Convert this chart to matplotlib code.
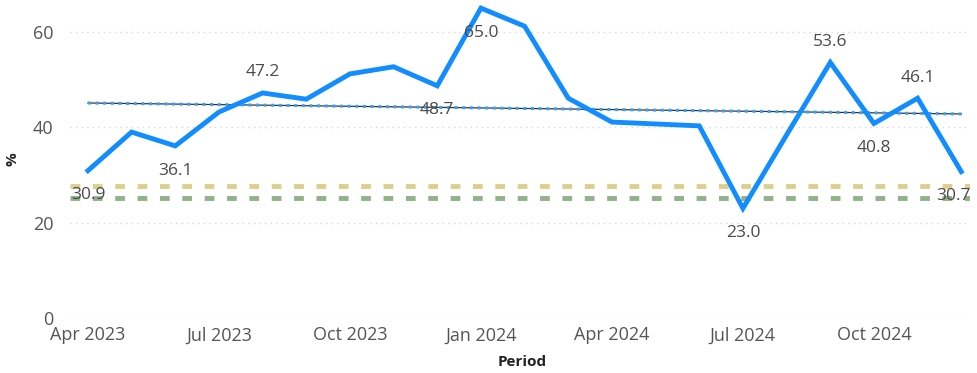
import matplotlib
matplotlib.use("Agg")
import matplotlib.pyplot as plt
import numpy as np

# monthly series, Apr 2023 .. Dec 2024
periods = ["Apr 2023", "May 2023", "Jun 2023", "Jul 2023", "Aug 2023", "Sep 2023",
           "Oct 2023", "Nov 2023", "Dec 2023", "Jan 2024", "Feb 2024", "Mar 2024",
           "Apr 2024", "May 2024", "Jun 2024", "Jul 2024", "Aug 2024", "Sep 2024",
           "Oct 2024", "Nov 2024", "Dec 2024"]
values = [30.9, 39.0, 36.1, 43.2, 47.2, 45.9, 51.2, 52.7, 48.7, 65.0, 61.2, 46.1,
          41.1, 40.7, 40.3, 23.0, 38.4, 53.6, 40.8, 46.1, 30.7]
trend = [45.1, 42.8]           # trend line start / end
ref_upper = 27.7
ref_lower = 25.2
tick_labels = ["Apr 2023", "Jul 2023", "Oct 2023", "Jan 2024", "Apr 2024", "Jul 2024", "Oct 2024"]
y_ticks = [0, 20, 40, 60]

# labelled points: index -> placement ('above' / 'below')
labelled = {0: "below", 2: "below", 4: "above", 8: "below", 9: "below",
            15: "below", 17: "above", 18: "below", 19: "above", 20: "below"}

plt.rcParams['font.family'] = ['Open Sans', 'DejaVu Sans']

fig = plt.figure(figsize=(9.78, 3.73), dpi=100)
ax = fig.add_axes([70 / 978, 55 / 373, 900 / 978, 318 / 373])

x = np.arange(len(values))

# reference lines
ax.plot([-0.41, 20.2], [ref_upper] * 2, color="#dccf8c", lw=3.5, dashes=(2, 2.6), zorder=2)
ax.plot([-0.41, 20.2], [ref_lower] * 2, color="#8fb288", lw=3.5, dashes=(2, 2.6), zorder=2)

# trend line: thin black with blue dots
ax.plot([x[0], x[-1]], trend, color="#333333", lw=0.9, zorder=3)
ax.plot([x[0], x[-1]], trend, color="#3aa0f5", lw=2.2, dashes=(1, 1.5), zorder=3)

# main series
ax.plot(x, values, color="#118DFF", lw=3.5, solid_joinstyle="miter", zorder=4)

for i, pos in labelled.items():
    off = 9 if pos == "above" else -12
    va = "bottom" if pos == "above" else "top"
    dx = -6 if i == len(values) - 1 else 0
    ax.annotate(f"{values[i]:.1f}", (x[i], values[i]), xytext=(dx, off),
                textcoords="offset points", ha="center", va=va,
                fontsize=12.5, color="#4a4a4a", zorder=5)

ax.set_xlim(-0.41, 20.2)
ax.set_ylim(0, 66.7)
ax.set_yticks(y_ticks)
ax.set_xticks([periods.index(t) for t in tick_labels])
ax.set_xticklabels(tick_labels)
ax.tick_params(length=0, labelsize=13, labelcolor="#555555")
ax.tick_params(axis="y", pad=12)
ax.tick_params(axis="x", pad=6)
ax.grid(axis="y", color="#d8d8d8", lw=1, linestyle=(0, (1, 3)))
for s in ax.spines.values():
    s.set_visible(False)

ax.set_xlabel("Period", fontsize=11, fontweight="bold", color="#222222")
ax.xaxis.set_label_coords(0.502, -0.115)
ax.set_ylabel("%", fontsize=11, fontweight="bold", color="#222222")
ax.yaxis.set_label_coords(-0.056, 0.5)

fig.savefig("out.png", dpi=100)
